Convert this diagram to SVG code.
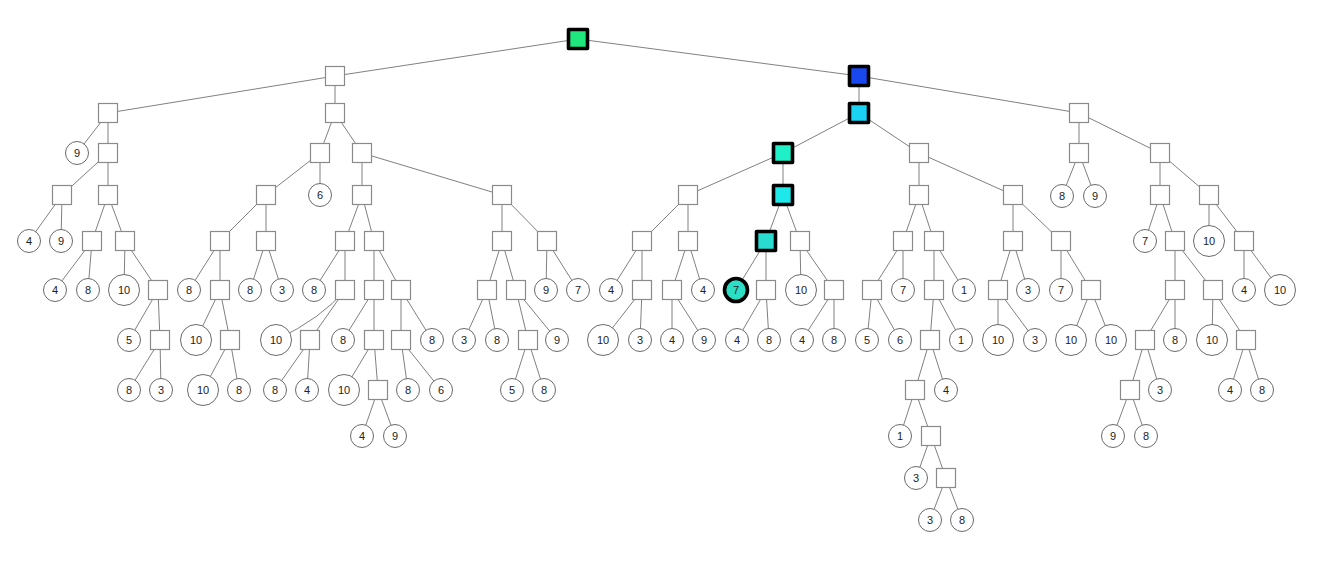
<svg xmlns="http://www.w3.org/2000/svg" width="1333" height="569" viewBox="0 0 1333 569">
<style>
.e{stroke:#808080;stroke-width:1;fill:none}
.s{fill:#fff;stroke:#8a8a8a;stroke-width:1.2}
.c{fill:#fff;stroke:#6a6a6a;stroke-width:1}
.h{stroke:#000;stroke-width:3.6;stroke-linejoin:round}
.t{font-family:"Liberation Sans",Arial,sans-serif;font-size:11px;fill:#222;text-anchor:middle}
</style>
<rect width="1333" height="569" fill="#fff"/>
<g id="edges">
<line class="e" x1="578" y1="39" x2="335" y2="76"/><line class="e" x1="578" y1="39" x2="859" y2="76"/>
<line class="e" x1="335" y1="76" x2="108" y2="113"/><line class="e" x1="335" y1="76" x2="335" y2="113"/>
<line class="e" x1="859" y1="76" x2="859" y2="113"/><line class="e" x1="859" y1="76" x2="1079" y2="113"/>
<line class="e" x1="108" y1="113" x2="77" y2="153"/><line class="e" x1="108" y1="113" x2="108" y2="153"/>
<line class="e" x1="335" y1="113" x2="320" y2="153"/><line class="e" x1="335" y1="113" x2="362" y2="153"/>
<line class="e" x1="859" y1="113" x2="783" y2="153"/><line class="e" x1="859" y1="113" x2="919" y2="153"/>
<line class="e" x1="1079" y1="113" x2="1079" y2="153"/><line class="e" x1="1079" y1="113" x2="1160" y2="153"/>
<line class="e" x1="108" y1="153" x2="62" y2="195"/><line class="e" x1="108" y1="153" x2="108" y2="195"/>
<line class="e" x1="320" y1="153" x2="266" y2="195"/><line class="e" x1="320" y1="153" x2="320" y2="195"/>
<line class="e" x1="362" y1="153" x2="362" y2="195"/><line class="e" x1="362" y1="153" x2="502" y2="195"/>
<line class="e" x1="783" y1="153" x2="688" y2="195"/><line class="e" x1="783" y1="153" x2="783" y2="195"/>
<line class="e" x1="919" y1="153" x2="919" y2="195"/><line class="e" x1="919" y1="153" x2="1013" y2="195"/>
<line class="e" x1="1079" y1="153" x2="1062" y2="196"/><line class="e" x1="1079" y1="153" x2="1095" y2="196"/>
<line class="e" x1="1160" y1="153" x2="1160" y2="195"/><line class="e" x1="1160" y1="153" x2="1209" y2="195"/>
<line class="e" x1="62" y1="195" x2="29" y2="241"/><line class="e" x1="62" y1="195" x2="61" y2="241"/>
<line class="e" x1="108" y1="195" x2="92" y2="241"/><line class="e" x1="108" y1="195" x2="125" y2="241"/>
<line class="e" x1="266" y1="195" x2="220" y2="241"/><line class="e" x1="266" y1="195" x2="266" y2="241"/>
<line class="e" x1="362" y1="195" x2="345" y2="241"/><line class="e" x1="362" y1="195" x2="374" y2="241"/>
<line class="e" x1="502" y1="195" x2="502" y2="241"/><line class="e" x1="502" y1="195" x2="547" y2="241"/>
<line class="e" x1="688" y1="195" x2="642" y2="241"/><line class="e" x1="688" y1="195" x2="688" y2="241"/>
<line class="e" x1="783" y1="195" x2="766" y2="241"/><line class="e" x1="783" y1="195" x2="800" y2="241"/>
<line class="e" x1="919" y1="195" x2="903" y2="241"/><line class="e" x1="919" y1="195" x2="934" y2="241"/>
<line class="e" x1="1013" y1="195" x2="1013" y2="241"/><line class="e" x1="1013" y1="195" x2="1061" y2="241"/>
<line class="e" x1="1160" y1="195" x2="1145" y2="241"/><line class="e" x1="1160" y1="195" x2="1175" y2="241"/>
<line class="e" x1="1209" y1="195" x2="1209" y2="241"/><line class="e" x1="1209" y1="195" x2="1244" y2="241"/>
<line class="e" x1="92" y1="241" x2="55" y2="290"/><line class="e" x1="92" y1="241" x2="88" y2="290"/>
<line class="e" x1="125" y1="241" x2="124" y2="290"/><line class="e" x1="125" y1="241" x2="158" y2="290"/>
<line class="e" x1="220" y1="241" x2="189" y2="290"/><line class="e" x1="220" y1="241" x2="220" y2="290"/>
<line class="e" x1="266" y1="241" x2="250" y2="290"/><line class="e" x1="266" y1="241" x2="282" y2="290"/>
<line class="e" x1="345" y1="241" x2="314" y2="290"/><line class="e" x1="345" y1="241" x2="345" y2="290"/>
<line class="e" x1="374" y1="241" x2="374" y2="290"/><line class="e" x1="374" y1="241" x2="401" y2="290"/>
<line class="e" x1="502" y1="241" x2="487" y2="290"/><line class="e" x1="502" y1="241" x2="516" y2="290"/>
<line class="e" x1="547" y1="241" x2="546" y2="290"/><line class="e" x1="547" y1="241" x2="578" y2="290"/>
<line class="e" x1="642" y1="241" x2="611" y2="290"/><line class="e" x1="642" y1="241" x2="642" y2="290"/>
<line class="e" x1="688" y1="241" x2="672" y2="290"/><line class="e" x1="688" y1="241" x2="703" y2="290"/>
<line class="e" x1="766" y1="241" x2="736" y2="290"/><line class="e" x1="766" y1="241" x2="766" y2="290"/>
<line class="e" x1="800" y1="241" x2="801" y2="290"/><line class="e" x1="800" y1="241" x2="834" y2="290"/>
<line class="e" x1="903" y1="241" x2="872" y2="290"/><line class="e" x1="903" y1="241" x2="903" y2="290"/>
<line class="e" x1="934" y1="241" x2="934" y2="290"/><line class="e" x1="934" y1="241" x2="964" y2="290"/>
<line class="e" x1="1013" y1="241" x2="998" y2="290"/><line class="e" x1="1013" y1="241" x2="1028" y2="290"/>
<line class="e" x1="1061" y1="241" x2="1061" y2="290"/><line class="e" x1="1061" y1="241" x2="1091" y2="290"/>
<line class="e" x1="1175" y1="241" x2="1175" y2="290"/><line class="e" x1="1175" y1="241" x2="1213" y2="290"/>
<line class="e" x1="1244" y1="241" x2="1244" y2="290"/><line class="e" x1="1244" y1="241" x2="1280" y2="290"/>
<line class="e" x1="158" y1="290" x2="129" y2="340"/><line class="e" x1="158" y1="290" x2="160" y2="340"/>
<line class="e" x1="220" y1="290" x2="196" y2="340"/><line class="e" x1="220" y1="290" x2="230" y2="340"/>
<path class="e" d="M345,290 Q322,318 276,340"/><line class="e" x1="345" y1="290" x2="310" y2="340"/>
<line class="e" x1="374" y1="290" x2="343" y2="340"/><line class="e" x1="374" y1="290" x2="374" y2="340"/>
<line class="e" x1="401" y1="290" x2="401" y2="340"/><line class="e" x1="401" y1="290" x2="432" y2="340"/>
<line class="e" x1="487" y1="290" x2="464" y2="340"/><line class="e" x1="487" y1="290" x2="497" y2="340"/>
<line class="e" x1="516" y1="290" x2="528" y2="340"/><line class="e" x1="516" y1="290" x2="557" y2="340"/>
<line class="e" x1="642" y1="290" x2="603" y2="340"/><line class="e" x1="642" y1="290" x2="640" y2="340"/>
<line class="e" x1="672" y1="290" x2="672" y2="340"/><line class="e" x1="672" y1="290" x2="704" y2="340"/>
<line class="e" x1="766" y1="290" x2="737" y2="340"/><line class="e" x1="766" y1="290" x2="769" y2="340"/>
<line class="e" x1="834" y1="290" x2="802" y2="340"/><line class="e" x1="834" y1="290" x2="834" y2="340"/>
<line class="e" x1="872" y1="290" x2="867" y2="340"/><line class="e" x1="872" y1="290" x2="900" y2="340"/>
<line class="e" x1="934" y1="290" x2="930" y2="340"/><line class="e" x1="934" y1="290" x2="961" y2="340"/>
<line class="e" x1="998" y1="290" x2="998" y2="340"/><line class="e" x1="998" y1="290" x2="1035" y2="340"/>
<line class="e" x1="1091" y1="290" x2="1071" y2="340"/><line class="e" x1="1091" y1="290" x2="1111" y2="340"/>
<line class="e" x1="1175" y1="290" x2="1145" y2="340"/><line class="e" x1="1175" y1="290" x2="1175" y2="340"/>
<line class="e" x1="1213" y1="290" x2="1212" y2="340"/><line class="e" x1="1213" y1="290" x2="1246" y2="340"/>
<line class="e" x1="160" y1="340" x2="129" y2="390"/><line class="e" x1="160" y1="340" x2="161" y2="390"/>
<line class="e" x1="230" y1="340" x2="203" y2="390"/><line class="e" x1="230" y1="340" x2="239" y2="390"/>
<line class="e" x1="310" y1="340" x2="275" y2="390"/><line class="e" x1="310" y1="340" x2="307" y2="390"/>
<line class="e" x1="374" y1="340" x2="344" y2="390"/><line class="e" x1="374" y1="340" x2="378" y2="390"/>
<line class="e" x1="401" y1="340" x2="408" y2="390"/><line class="e" x1="401" y1="340" x2="441" y2="390"/>
<line class="e" x1="528" y1="340" x2="512" y2="390"/><line class="e" x1="528" y1="340" x2="544" y2="390"/>
<line class="e" x1="930" y1="340" x2="915" y2="390"/><line class="e" x1="930" y1="340" x2="946" y2="390"/>
<line class="e" x1="1145" y1="340" x2="1130" y2="390"/><line class="e" x1="1145" y1="340" x2="1160" y2="390"/>
<line class="e" x1="1246" y1="340" x2="1230" y2="390"/><line class="e" x1="1246" y1="340" x2="1262" y2="390"/>
<line class="e" x1="378" y1="390" x2="362" y2="436"/><line class="e" x1="378" y1="390" x2="395" y2="436"/>
<line class="e" x1="915" y1="390" x2="900" y2="436"/><line class="e" x1="915" y1="390" x2="931" y2="436"/>
<line class="e" x1="1130" y1="390" x2="1113" y2="436"/><line class="e" x1="1130" y1="390" x2="1146" y2="436"/>
<line class="e" x1="931" y1="436" x2="916" y2="478"/><line class="e" x1="931" y1="436" x2="946" y2="478"/>
<line class="e" x1="946" y1="478" x2="930" y2="520"/><line class="e" x1="946" y1="478" x2="962" y2="520"/>
</g>
<g id="nodes">
<g id="n0"><rect class="s h" x="568.5" y="29.5" width="19" height="19" style="fill:#1fe67d"/></g>
<g id="n1"><rect class="s" x="325.5" y="66.5" width="19" height="19"/></g>
<g id="n2"><rect class="s h" x="849.5" y="66.5" width="19" height="19" style="fill:#1848ee"/></g>
<g id="n3"><rect class="s" x="98.5" y="103.5" width="19" height="19"/></g>
<g id="n4"><rect class="s" x="325.5" y="103.5" width="19" height="19"/></g>
<g id="n5"><rect class="s h" x="849.5" y="103.5" width="19" height="19" style="fill:#1ad2f2"/></g>
<g id="n6"><rect class="s" x="1069.5" y="103.5" width="19" height="19"/></g>
<g id="n7"><circle class="c" cx="77" cy="153" r="11.5"/><text class="t" x="77" y="157">9</text></g>
<g id="n8"><rect class="s" x="98.5" y="143.5" width="19" height="19"/></g>
<g id="n9"><rect class="s" x="310.5" y="143.5" width="19" height="19"/></g>
<g id="n10"><rect class="s" x="352.5" y="143.5" width="19" height="19"/></g>
<g id="n11"><rect class="s h" x="773.5" y="143.5" width="19" height="19" style="fill:#20f0c8"/></g>
<g id="n12"><rect class="s" x="909.5" y="143.5" width="19" height="19"/></g>
<g id="n13"><rect class="s" x="1069.5" y="143.5" width="19" height="19"/></g>
<g id="n14"><rect class="s" x="1150.5" y="143.5" width="19" height="19"/></g>
<g id="n15"><rect class="s" x="52.5" y="185.5" width="19" height="19"/></g>
<g id="n16"><rect class="s" x="98.5" y="185.5" width="19" height="19"/></g>
<g id="n17"><rect class="s" x="256.5" y="185.5" width="19" height="19"/></g>
<g id="n18"><circle class="c" cx="320" cy="195" r="11.5"/><text class="t" x="320" y="199">6</text></g>
<g id="n19"><rect class="s" x="352.5" y="185.5" width="19" height="19"/></g>
<g id="n20"><rect class="s" x="492.5" y="185.5" width="19" height="19"/></g>
<g id="n21"><rect class="s" x="678.5" y="185.5" width="19" height="19"/></g>
<g id="n22"><rect class="s h" x="773.5" y="185.5" width="19" height="19" style="fill:#1ee8ea"/></g>
<g id="n23"><rect class="s" x="909.5" y="185.5" width="19" height="19"/></g>
<g id="n24"><rect class="s" x="1003.5" y="185.5" width="19" height="19"/></g>
<g id="n25"><circle class="c" cx="1062" cy="196" r="11.5"/><text class="t" x="1062" y="200">8</text></g>
<g id="n26"><circle class="c" cx="1095" cy="196" r="11.5"/><text class="t" x="1095" y="200">9</text></g>
<g id="n27"><rect class="s" x="1150.5" y="185.5" width="19" height="19"/></g>
<g id="n28"><rect class="s" x="1199.5" y="185.5" width="19" height="19"/></g>
<g id="n29"><circle class="c" cx="29" cy="241" r="11.5"/><text class="t" x="29" y="245">4</text></g>
<g id="n30"><circle class="c" cx="61" cy="241" r="11.5"/><text class="t" x="61" y="245">9</text></g>
<g id="n31"><rect class="s" x="82.5" y="231.5" width="19" height="19"/></g>
<g id="n32"><rect class="s" x="115.5" y="231.5" width="19" height="19"/></g>
<g id="n33"><rect class="s" x="210.5" y="231.5" width="19" height="19"/></g>
<g id="n34"><rect class="s" x="256.5" y="231.5" width="19" height="19"/></g>
<g id="n35"><rect class="s" x="335.5" y="231.5" width="19" height="19"/></g>
<g id="n36"><rect class="s" x="364.5" y="231.5" width="19" height="19"/></g>
<g id="n37"><rect class="s" x="492.5" y="231.5" width="19" height="19"/></g>
<g id="n38"><rect class="s" x="537.5" y="231.5" width="19" height="19"/></g>
<g id="n39"><rect class="s" x="632.5" y="231.5" width="19" height="19"/></g>
<g id="n40"><rect class="s" x="678.5" y="231.5" width="19" height="19"/></g>
<g id="n41"><rect class="s h" x="756.5" y="231.5" width="19" height="19" style="fill:#28dccf"/></g>
<g id="n42"><rect class="s" x="790.5" y="231.5" width="19" height="19"/></g>
<g id="n43"><rect class="s" x="893.5" y="231.5" width="19" height="19"/></g>
<g id="n44"><rect class="s" x="924.5" y="231.5" width="19" height="19"/></g>
<g id="n45"><rect class="s" x="1003.5" y="231.5" width="19" height="19"/></g>
<g id="n46"><rect class="s" x="1051.5" y="231.5" width="19" height="19"/></g>
<g id="n47"><circle class="c" cx="1145" cy="241" r="11.5"/><text class="t" x="1145" y="245">7</text></g>
<g id="n48"><rect class="s" x="1165.5" y="231.5" width="19" height="19"/></g>
<g id="n49"><circle class="c" cx="1209" cy="241" r="15.5"/><text class="t" x="1209" y="245">10</text></g>
<g id="n50"><rect class="s" x="1234.5" y="231.5" width="19" height="19"/></g>
<g id="n51"><circle class="c" cx="55" cy="290" r="11.5"/><text class="t" x="55" y="294">4</text></g>
<g id="n52"><circle class="c" cx="88" cy="290" r="11.5"/><text class="t" x="88" y="294">8</text></g>
<g id="n53"><circle class="c" cx="124" cy="290" r="15.5"/><text class="t" x="124" y="294">10</text></g>
<g id="n54"><rect class="s" x="148.5" y="280.5" width="19" height="19"/></g>
<g id="n55"><circle class="c" cx="189" cy="290" r="11.5"/><text class="t" x="189" y="294">8</text></g>
<g id="n56"><rect class="s" x="210.5" y="280.5" width="19" height="19"/></g>
<g id="n57"><circle class="c" cx="250" cy="290" r="11.5"/><text class="t" x="250" y="294">8</text></g>
<g id="n58"><circle class="c" cx="282" cy="290" r="11.5"/><text class="t" x="282" y="294">3</text></g>
<g id="n59"><circle class="c" cx="314" cy="290" r="11.5"/><text class="t" x="314" y="294">8</text></g>
<g id="n60"><rect class="s" x="335.5" y="280.5" width="19" height="19"/></g>
<g id="n61"><rect class="s" x="364.5" y="280.5" width="19" height="19"/></g>
<g id="n62"><rect class="s" x="391.5" y="280.5" width="19" height="19"/></g>
<g id="n63"><rect class="s" x="477.5" y="280.5" width="19" height="19"/></g>
<g id="n64"><rect class="s" x="506.5" y="280.5" width="19" height="19"/></g>
<g id="n65"><circle class="c" cx="546" cy="290" r="11.5"/><text class="t" x="546" y="294">9</text></g>
<g id="n66"><circle class="c" cx="578" cy="290" r="11.5"/><text class="t" x="578" y="294">7</text></g>
<g id="n67"><circle class="c" cx="611" cy="290" r="11.5"/><text class="t" x="611" y="294">4</text></g>
<g id="n68"><rect class="s" x="632.5" y="280.5" width="19" height="19"/></g>
<g id="n69"><rect class="s" x="662.5" y="280.5" width="19" height="19"/></g>
<g id="n70"><circle class="c" cx="703" cy="290" r="11.5"/><text class="t" x="703" y="294">4</text></g>
<g id="n71"><circle class="c h" cx="736" cy="290" r="11.5" style="fill:#2cdec4"/><text class="t" x="736" y="294">7</text></g>
<g id="n72"><rect class="s" x="756.5" y="280.5" width="19" height="19"/></g>
<g id="n73"><circle class="c" cx="801" cy="290" r="15.5"/><text class="t" x="801" y="294">10</text></g>
<g id="n74"><rect class="s" x="824.5" y="280.5" width="19" height="19"/></g>
<g id="n75"><rect class="s" x="862.5" y="280.5" width="19" height="19"/></g>
<g id="n76"><circle class="c" cx="903" cy="290" r="11.5"/><text class="t" x="903" y="294">7</text></g>
<g id="n77"><rect class="s" x="924.5" y="280.5" width="19" height="19"/></g>
<g id="n78"><circle class="c" cx="964" cy="290" r="11.5"/><text class="t" x="964" y="294">1</text></g>
<g id="n79"><rect class="s" x="988.5" y="280.5" width="19" height="19"/></g>
<g id="n80"><circle class="c" cx="1028" cy="290" r="11.5"/><text class="t" x="1028" y="294">3</text></g>
<g id="n81"><circle class="c" cx="1061" cy="290" r="11.5"/><text class="t" x="1061" y="294">7</text></g>
<g id="n82"><rect class="s" x="1081.5" y="280.5" width="19" height="19"/></g>
<g id="n83"><rect class="s" x="1165.5" y="280.5" width="19" height="19"/></g>
<g id="n84"><rect class="s" x="1203.5" y="280.5" width="19" height="19"/></g>
<g id="n85"><circle class="c" cx="1244" cy="290" r="11.5"/><text class="t" x="1244" y="294">4</text></g>
<g id="n86"><circle class="c" cx="1280" cy="290" r="15.5"/><text class="t" x="1280" y="294">10</text></g>
<g id="n87"><circle class="c" cx="129" cy="340" r="11.5"/><text class="t" x="129" y="344">5</text></g>
<g id="n88"><rect class="s" x="150.5" y="330.5" width="19" height="19"/></g>
<g id="n89"><circle class="c" cx="196" cy="340" r="15.5"/><text class="t" x="196" y="344">10</text></g>
<g id="n90"><rect class="s" x="220.5" y="330.5" width="19" height="19"/></g>
<g id="n91"><circle class="c" cx="276" cy="340" r="15.5"/><text class="t" x="276" y="344">10</text></g>
<g id="n92"><rect class="s" x="300.5" y="330.5" width="19" height="19"/></g>
<g id="n93"><circle class="c" cx="343" cy="340" r="11.5"/><text class="t" x="343" y="344">8</text></g>
<g id="n94"><rect class="s" x="364.5" y="330.5" width="19" height="19"/></g>
<g id="n95"><rect class="s" x="391.5" y="330.5" width="19" height="19"/></g>
<g id="n96"><circle class="c" cx="432" cy="340" r="11.5"/><text class="t" x="432" y="344">8</text></g>
<g id="n97"><circle class="c" cx="464" cy="340" r="11.5"/><text class="t" x="464" y="344">3</text></g>
<g id="n98"><circle class="c" cx="497" cy="340" r="11.5"/><text class="t" x="497" y="344">8</text></g>
<g id="n99"><rect class="s" x="518.5" y="330.5" width="19" height="19"/></g>
<g id="n100"><circle class="c" cx="557" cy="340" r="11.5"/><text class="t" x="557" y="344">9</text></g>
<g id="n101"><circle class="c" cx="603" cy="340" r="15.5"/><text class="t" x="603" y="344">10</text></g>
<g id="n102"><circle class="c" cx="640" cy="340" r="11.5"/><text class="t" x="640" y="344">3</text></g>
<g id="n103"><circle class="c" cx="672" cy="340" r="11.5"/><text class="t" x="672" y="344">4</text></g>
<g id="n104"><circle class="c" cx="704" cy="340" r="11.5"/><text class="t" x="704" y="344">9</text></g>
<g id="n105"><circle class="c" cx="737" cy="340" r="11.5"/><text class="t" x="737" y="344">4</text></g>
<g id="n106"><circle class="c" cx="769" cy="340" r="11.5"/><text class="t" x="769" y="344">8</text></g>
<g id="n107"><circle class="c" cx="802" cy="340" r="11.5"/><text class="t" x="802" y="344">4</text></g>
<g id="n108"><circle class="c" cx="834" cy="340" r="11.5"/><text class="t" x="834" y="344">8</text></g>
<g id="n109"><circle class="c" cx="867" cy="340" r="11.5"/><text class="t" x="867" y="344">5</text></g>
<g id="n110"><circle class="c" cx="900" cy="340" r="11.5"/><text class="t" x="900" y="344">6</text></g>
<g id="n111"><rect class="s" x="920.5" y="330.5" width="19" height="19"/></g>
<g id="n112"><circle class="c" cx="961" cy="340" r="11.5"/><text class="t" x="961" y="344">1</text></g>
<g id="n113"><circle class="c" cx="998" cy="340" r="15.5"/><text class="t" x="998" y="344">10</text></g>
<g id="n114"><circle class="c" cx="1035" cy="340" r="11.5"/><text class="t" x="1035" y="344">3</text></g>
<g id="n115"><circle class="c" cx="1071" cy="340" r="15.5"/><text class="t" x="1071" y="344">10</text></g>
<g id="n116"><circle class="c" cx="1111" cy="340" r="15.5"/><text class="t" x="1111" y="344">10</text></g>
<g id="n117"><rect class="s" x="1135.5" y="330.5" width="19" height="19"/></g>
<g id="n118"><circle class="c" cx="1175" cy="340" r="11.5"/><text class="t" x="1175" y="344">8</text></g>
<g id="n119"><circle class="c" cx="1212" cy="340" r="15.5"/><text class="t" x="1212" y="344">10</text></g>
<g id="n120"><rect class="s" x="1236.5" y="330.5" width="19" height="19"/></g>
<g id="n121"><circle class="c" cx="129" cy="390" r="11.5"/><text class="t" x="129" y="394">8</text></g>
<g id="n122"><circle class="c" cx="161" cy="390" r="11.5"/><text class="t" x="161" y="394">3</text></g>
<g id="n123"><circle class="c" cx="203" cy="390" r="15.5"/><text class="t" x="203" y="394">10</text></g>
<g id="n124"><circle class="c" cx="239" cy="390" r="11.5"/><text class="t" x="239" y="394">8</text></g>
<g id="n125"><circle class="c" cx="275" cy="390" r="11.5"/><text class="t" x="275" y="394">8</text></g>
<g id="n126"><circle class="c" cx="307" cy="390" r="11.5"/><text class="t" x="307" y="394">4</text></g>
<g id="n127"><circle class="c" cx="344" cy="390" r="15.5"/><text class="t" x="344" y="394">10</text></g>
<g id="n128"><rect class="s" x="368.5" y="380.5" width="19" height="19"/></g>
<g id="n129"><circle class="c" cx="408" cy="390" r="11.5"/><text class="t" x="408" y="394">8</text></g>
<g id="n130"><circle class="c" cx="441" cy="390" r="11.5"/><text class="t" x="441" y="394">6</text></g>
<g id="n131"><circle class="c" cx="512" cy="390" r="11.5"/><text class="t" x="512" y="394">5</text></g>
<g id="n132"><circle class="c" cx="544" cy="390" r="11.5"/><text class="t" x="544" y="394">8</text></g>
<g id="n133"><rect class="s" x="905.5" y="380.5" width="19" height="19"/></g>
<g id="n134"><circle class="c" cx="946" cy="390" r="11.5"/><text class="t" x="946" y="394">4</text></g>
<g id="n135"><rect class="s" x="1120.5" y="380.5" width="19" height="19"/></g>
<g id="n136"><circle class="c" cx="1160" cy="390" r="11.5"/><text class="t" x="1160" y="394">3</text></g>
<g id="n137"><circle class="c" cx="1230" cy="390" r="11.5"/><text class="t" x="1230" y="394">4</text></g>
<g id="n138"><circle class="c" cx="1262" cy="390" r="11.5"/><text class="t" x="1262" y="394">8</text></g>
<g id="n139"><circle class="c" cx="362" cy="436" r="11.5"/><text class="t" x="362" y="440">4</text></g>
<g id="n140"><circle class="c" cx="395" cy="436" r="11.5"/><text class="t" x="395" y="440">9</text></g>
<g id="n141"><circle class="c" cx="900" cy="436" r="11.5"/><text class="t" x="900" y="440">1</text></g>
<g id="n142"><rect class="s" x="921.5" y="426.5" width="19" height="19"/></g>
<g id="n143"><circle class="c" cx="1113" cy="436" r="11.5"/><text class="t" x="1113" y="440">9</text></g>
<g id="n144"><circle class="c" cx="1146" cy="436" r="11.5"/><text class="t" x="1146" y="440">8</text></g>
<g id="n145"><circle class="c" cx="916" cy="478" r="11.5"/><text class="t" x="916" y="482">3</text></g>
<g id="n146"><rect class="s" x="936.5" y="468.5" width="19" height="19"/></g>
<g id="n147"><circle class="c" cx="930" cy="520" r="11.5"/><text class="t" x="930" y="524">3</text></g>
<g id="n148"><circle class="c" cx="962" cy="520" r="11.5"/><text class="t" x="962" y="524">8</text></g>
</g>
</svg>
